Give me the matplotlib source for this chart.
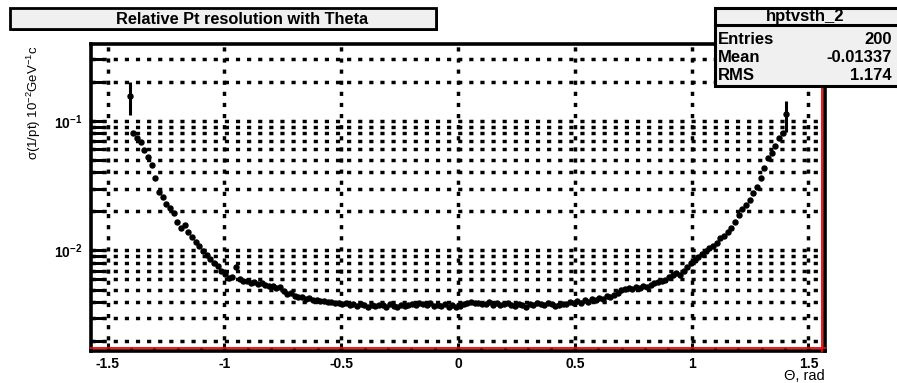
import numpy as np
import matplotlib
matplotlib.use("Agg")
import matplotlib.pyplot as plt
from matplotlib.patches import Rectangle
from matplotlib.lines import Line2D
from matplotlib.ticker import (FixedLocator, FixedFormatter, LogLocator,
                               NullFormatter, MultipleLocator)

plt.rcParams['font.family'] = ['Liberation Sans', 'DejaVu Sans']
plt.rcParams['mathtext.fontset'] = 'custom'
plt.rcParams['mathtext.rm'] = 'Liberation Sans'
plt.rcParams['mathtext.it'] = 'Liberation Sans:italic'
plt.rcParams['mathtext.bf'] = 'Liberation Sans:bold'
plt.rcParams['axes.unicode_minus'] = False

# ---- histogram definition: 200 bins over [-pi/2, pi/2] ----
n_bins = 200
theta_lo, theta_hi = -np.pi / 2, np.pi / 2
first_filled_bin = 10

# sigma(1/pt) per filled bin, in units of 1e-3
sigma_milli = [
    155, 80.9, 74.0, 69.0, 59.8, 52.9, 45.9, 36.4, 28.4, 25.6,
    23.0, 21.4, 19.6, 16.7, 15.0, 15.6, 14.0, 12.6, 11.7, 10.9,
    9.83, 9.15, 8.53, 7.94, 7.53, 6.90, 6.54, 6.09, 6.20, 7.40,
    5.98, 5.78, 5.80, 5.58, 5.68, 5.48, 5.66, 5.38, 5.29, 5.36,
    5.10, 5.19, 4.84, 4.59, 4.67, 4.43, 4.35, 4.41, 4.20, 4.27,
    4.13, 4.18, 4.05, 4.11, 3.98, 4.03, 3.91, 3.96, 3.84, 3.93,
    3.78, 3.86, 3.71, 3.85, 3.79, 3.64, 3.83, 3.72, 3.77, 3.82,
    3.70, 3.90, 3.76, 3.66, 3.81, 3.73, 3.79, 3.89, 3.77, 3.97,
    3.84, 3.78, 3.92, 3.71, 3.83, 3.76, 3.85, 3.69, 3.78, 3.65,
    3.72, 3.86, 3.91, 3.98, 3.92, 3.97, 3.84, 3.90, 3.99, 3.83,
    3.91, 3.77, 3.85, 3.92, 3.78, 3.71, 3.84, 3.79, 3.70, 3.86,
    3.77, 3.91, 3.85, 3.78, 3.92, 3.84, 3.72, 3.79, 3.90, 3.85,
    3.98, 3.91, 4.05, 3.97, 4.13, 4.04, 4.20, 4.12, 4.27, 4.19,
    4.43, 4.35, 4.51, 4.67, 4.92, 5.01, 5.10, 5.02, 5.19, 5.11,
    5.29, 5.20, 5.38, 5.58, 5.68, 5.78, 5.88, 6.20, 6.42, 6.66,
    6.45, 6.90, 7.40, 7.94, 8.38, 8.84, 9.32, 9.83, 10.4, 10.9,
    11.5, 12.4, 13.0, 14.0, 15.0, 16.7, 18.6, 20.7, 22.6, 24.7,
    27.9, 31.1, 36.4, 43.5, 51.9, 56.8, 64.2, 74.0, 80.9, 112,
]
# statistical errors of the two outermost bins (1e-3 units)
edge_err_milli = [44.0, 30.0]

x_ticks = [-1.5, -1.0, -0.5, 0.0, 0.5, 1.0, 1.5]
x_tick_labels = ["-1.5", "-1", "-0.5", "0", "0.5", "1", "1.5"]

title = "Relative Pt resolution with Theta"
stats_name = "hptvsth_2"
stats_rows = [("Entries", "200"), ("Mean", "-0.01337"), ("RMS", "1.174")]

# ---- derived arrays ----
width = (theta_hi - theta_lo) / n_bins
idx = first_filled_bin + np.arange(len(sigma_milli))
theta = theta_lo + (idx + 0.5) * width
sigma = np.array(sigma_milli) * 1e-3
yerr = np.zeros_like(sigma)
yerr[0] = edge_err_milli[0] * 1e-3
yerr[-1] = edge_err_milli[1] * 1e-3

W, H = 897, 383
fig = plt.figure(figsize=(W / 100, H / 100), dpi=100)
fig.patch.set_facecolor('white')


def fx(px):
    return px / W


def fy(py):
    return 1 - py / H


ax = fig.add_axes([fx(91), fy(351), (825 - 91) / W, (351 - 44) / H])
ax.set_facecolor('white')

dot = (0, (1.2, 2.0))
ax.set_yscale('log')
ax.set_xlim(theta_lo, theta_hi)
ax.set_ylim(0.00168, 0.39)

ax.xaxis.set_major_locator(FixedLocator(x_ticks))
ax.xaxis.set_major_formatter(FixedFormatter(x_tick_labels))
ax.xaxis.set_minor_locator(MultipleLocator(0.1))
ax.yaxis.set_major_locator(LogLocator(base=10))
ax.yaxis.set_minor_locator(LogLocator(base=10, subs=np.arange(2, 10)))
ax.yaxis.set_minor_formatter(NullFormatter())

ax.grid(True, which='major', axis='x', color='black', lw=2.5, ls=dot)
ax.grid(True, which='both', axis='y', color='black', lw=2.5, ls=dot)
ax.set_axisbelow(True)

ax.tick_params(axis='x', which='major', direction='in', length=6, width=2.2,
               top=False, labelsize=10, pad=4)
ax.tick_params(axis='x', which='minor', direction='in', length=3, width=2.2,
               top=False)
ax.tick_params(axis='y', which='both', direction='in', length=9, width=2.2,
               right=False, labelsize=10, pad=6)
for lab in ax.get_xticklabels() + ax.get_yticklabels():
    lab.set_fontweight('bold')

for sp in ax.spines.values():
    sp.set_linewidth(2.6)
    sp.set_color('black')

# histogram outline along the frame
ax.add_line(Line2D([0, 1], [0.009, 0.009], transform=ax.transAxes,
                   color='red', lw=1.3, clip_on=False, zorder=4))
ax.add_line(Line2D([0.9955, 0.9955], [0, 1], transform=ax.transAxes,
                   color='red', lw=1.3, clip_on=False, zorder=4))

ax.errorbar(theta, sigma, xerr=width / 2, yerr=yerr, fmt='o', color='black',
            ms=3.6, elinewidth=2.2, capsize=0, zorder=5)

# axis titles
fig.text(fx(34), fy(46), "σ(1/pt) 10$^{-2}$GeV$^{-1}$c", rotation=90,
         ha='center', va='top', fontsize=9.5)
fig.text(fx(825), fy(376), "Θ, rad", ha='right', va='center', fontsize=10.5)

# title pave with shadow
fig.add_artist(Rectangle((fx(12), fy(31)), fx(438) - fx(12), fy(10) - fy(31),
                         transform=fig.transFigure, facecolor='black',
                         edgecolor='none', zorder=5))
fig.add_artist(Rectangle((fx(10), fy(29)), fx(436) - fx(10), fy(8) - fy(29),
                         transform=fig.transFigure, facecolor='#f0f0f0',
                         edgecolor='black', lw=2.0, zorder=6))
fig.text(fx(242), fy(19), title, ha='center', va='center', fontsize=11.8,
         fontweight='bold', zorder=7)

# statistics box
fig.add_artist(Rectangle((fx(715), fy(86)), fx(900) - fx(715), fy(8) - fy(86),
                         transform=fig.transFigure, facecolor='#f0f0f0',
                         edgecolor='black', lw=2.2, zorder=6))
fig.add_artist(Line2D([fx(715), fx(900)], [fy(25), fy(25)],
                      transform=fig.transFigure, color='black', lw=2.2,
                      zorder=7))
fig.text(fx(805), fy(16), stats_name, ha='center', va='center', fontsize=12,
         fontweight='bold', zorder=8)
for k, (name, val) in enumerate(stats_rows):
    yy = 40 + 17.5 * k
    fig.text(fx(718), fy(yy), name, ha='left', va='center', fontsize=12,
             fontweight='bold', zorder=8)
    fig.text(fx(892), fy(yy), val, ha='right', va='center', fontsize=12,
             fontweight='bold', zorder=8)

fig.savefig("out.png", dpi=100, facecolor='white')
